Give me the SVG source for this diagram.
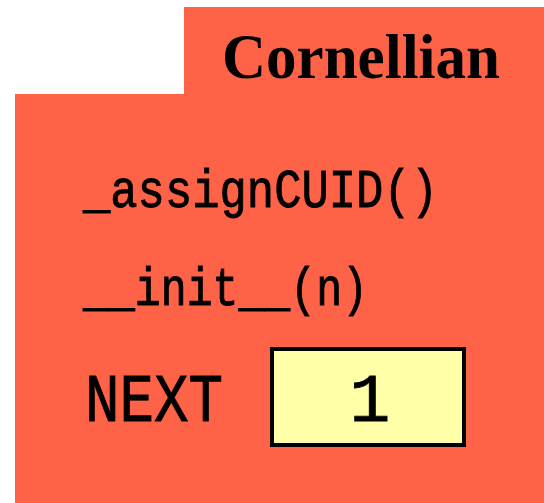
<svg xmlns="http://www.w3.org/2000/svg" width="544" height="503" viewBox="0 0 544 503">
<style>
.bg{fill:#FF6347;stroke:none}
.title{font-family:"Liberation Serif","Times New Roman",serif;font-weight:bold;font-size:64px;fill:#000}
.mono{font-family:"Liberation Mono","Courier New",monospace;fill:#000;stroke:#000;stroke-width:0.9}
.val{fill:#FFFFA8;stroke:#000;stroke-width:4}
</style>
<g id="cornellian">
<path class="bg" d="M184,7 H544 V503 H15 V94 H184 Z"/>
<text class="title" x="222" y="78" textLength="278" lengthAdjust="spacingAndGlyphs">Cornellian</text>
<text class="mono" x="83" y="207" font-size="54" textLength="355" lengthAdjust="spacingAndGlyphs">_assignCUID()</text>
<text class="mono" x="83" y="305" font-size="54" textLength="285" lengthAdjust="spacingAndGlyphs">__init__(n)</text>
<text class="mono" x="85" y="421" font-size="68" textLength="138" lengthAdjust="spacingAndGlyphs">NEXT</text>
</g>
<g id="next-value">
<rect class="val" x="272" y="349" width="192" height="96"/>
<text class="mono" x="370" y="421" font-size="68" text-anchor="middle">1</text>
</g>
</svg>
